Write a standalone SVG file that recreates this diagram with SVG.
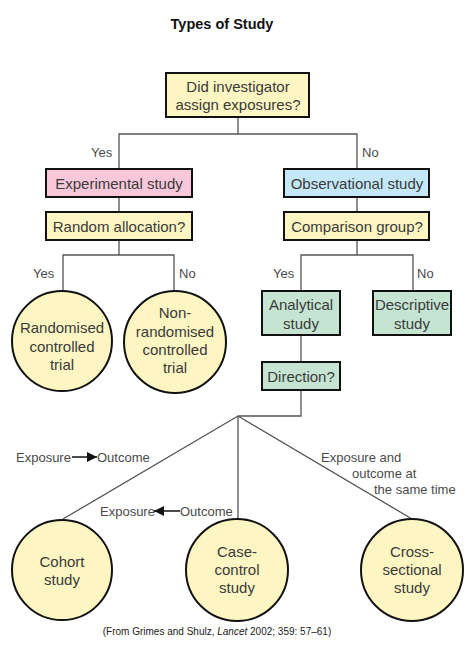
<svg xmlns="http://www.w3.org/2000/svg" width="474" height="659" viewBox="0 0 474 659">
<defs>
<style>
.t{font-family:"Liberation Sans",Arial,sans-serif;font-size:15px;fill:#3a3a3a;text-anchor:middle}
.l{font-family:"Liberation Sans",Arial,sans-serif;font-size:13px;fill:#4a4a4a}
.box{stroke:#111;stroke-width:2}
.y{fill:#fdf6c3}
.p{fill:#f8c8da}
.b{fill:#c4e8f8}
.g{fill:#c5e5d2}
.c{fill:#fdf6c3;stroke:#111;stroke-width:2}
.ln{fill:none;stroke:#555;stroke-width:1.3}
</style>
<marker id="ah" viewBox="0 0 10 10" refX="10" refY="5" markerWidth="10" markerHeight="10" markerUnits="userSpaceOnUse" orient="auto">
<path d="M0,0 L10,5 L0,10 z" fill="#111"/>
</marker>
</defs>
<rect width="474" height="659" fill="#fff"/>
<text x="222" y="29" style="font-family:'Liberation Sans',Arial,sans-serif;font-size:14.5px;font-weight:bold;fill:#111" text-anchor="middle">Types of Study</text>

<g id="connectors">
<path class="ln" d="M238,117 V134 M119,169 V134 H357 V169"/>
<path class="ln" d="M119,197 V212 M357,197 V212"/>
<path class="ln" d="M119,240 V255 M63,292 V255 H174 V292"/>
<path class="ln" d="M357,240 V255 M301,291 V255 H413 V291"/>
<path class="ln" d="M301,335 V362"/>
<path class="ln" d="M301,390 V416 H238"/>
<path class="ln" d="M238,416 L63,519 M238,416 V519 M238,416 L412,519"/>
</g>

<g id="labels">
<text class="l" x="91" y="157">Yes</text>
<text class="l" x="362" y="157">No</text>
<text class="l" x="33" y="278">Yes</text>
<text class="l" x="179" y="278">No</text>
<text class="l" x="273" y="278">Yes</text>
<text class="l" x="417" y="278">No</text>
<text class="l" x="16" y="462">Exposure</text>
<line x1="72" y1="457" x2="97" y2="457" stroke="#111" stroke-width="1.5" marker-end="url(#ah)"/>
<text class="l" x="97" y="462">Outcome</text>
<text class="l" x="100" y="516">Exposure</text>
<line x1="180" y1="511" x2="154" y2="511" stroke="#111" stroke-width="1.5" marker-end="url(#ah)"/>
<text class="l" x="180" y="516">Outcome</text>
<text class="l" x="321" y="462">Exposure and</text>
<text class="l" x="352" y="478">outcome at</text>
<text class="l" x="374" y="494">the same time</text>
</g>

<g id="n-assign">
<rect class="box y" x="166" y="73" width="143" height="44"/>
<text class="t" x="238" y="91.5">Did investigator</text>
<text class="t" x="238" y="109.5">assign exposures?</text>
</g>
<g id="n-experimental">
<rect class="box p" x="46" y="169" width="146" height="28"/>
<text class="t" x="119" y="188.5">Experimental study</text>
</g>
<g id="n-observational">
<rect class="box b" x="284" y="169" width="145" height="28"/>
<text class="t" x="357" y="188.5">Observational study</text>
</g>
<g id="n-random">
<rect class="box y" x="46" y="212" width="146" height="28"/>
<text class="t" x="119" y="231.5">Random allocation?</text>
</g>
<g id="n-comparison">
<rect class="box y" x="284" y="212" width="145" height="28"/>
<text class="t" x="357" y="231.5">Comparison group?</text>
</g>
<g id="n-rct">
<circle class="c" cx="62" cy="341" r="50"/>
<text class="t" x="62" y="333">Randomised</text>
<text class="t" x="62" y="352">controlled</text>
<text class="t" x="62" y="370">trial</text>
</g>
<g id="n-nrct">
<circle class="c" cx="175" cy="342" r="51"/>
<text class="t" x="175" y="318">Non-</text>
<text class="t" x="175" y="337">randomised</text>
<text class="t" x="175" y="355">controlled</text>
<text class="t" x="175" y="373">trial</text>
</g>
<g id="n-analytical">
<rect class="box g" x="262" y="291" width="78" height="44"/>
<text class="t" x="301" y="309.5">Analytical</text>
<text class="t" x="301" y="328.5">study</text>
</g>
<g id="n-descriptive">
<rect class="box g" x="373" y="291" width="78" height="44"/>
<text class="t" x="412" y="309.5">Descriptive</text>
<text class="t" x="412" y="328.5">study</text>
</g>
<g id="n-direction">
<rect class="box g" x="262" y="362" width="78" height="28"/>
<text class="t" x="301" y="381.5">Direction?</text>
</g>
<g id="n-cohort">
<circle class="c" cx="62" cy="570" r="50"/>
<text class="t" x="62" y="567">Cohort</text>
<text class="t" x="62" y="585">study</text>
</g>
<g id="n-casecontrol">
<circle class="c" cx="237" cy="570" r="51"/>
<text class="t" x="237" y="557">Case-</text>
<text class="t" x="237" y="575">control</text>
<text class="t" x="237" y="593">study</text>
</g>
<g id="n-crosssectional">
<circle class="c" cx="412" cy="570" r="51"/>
<text class="t" x="412" y="557">Cross-</text>
<text class="t" x="412" y="575">sectional</text>
<text class="t" x="412" y="593">study</text>
</g>

<text x="217" y="635" style="font-family:'Liberation Sans',Arial,sans-serif;font-size:10px;fill:#222" text-anchor="middle">(From Grimes and Shulz, <tspan font-style="italic">Lancet</tspan> 2002; 359: 57–61)</text>
</svg>
